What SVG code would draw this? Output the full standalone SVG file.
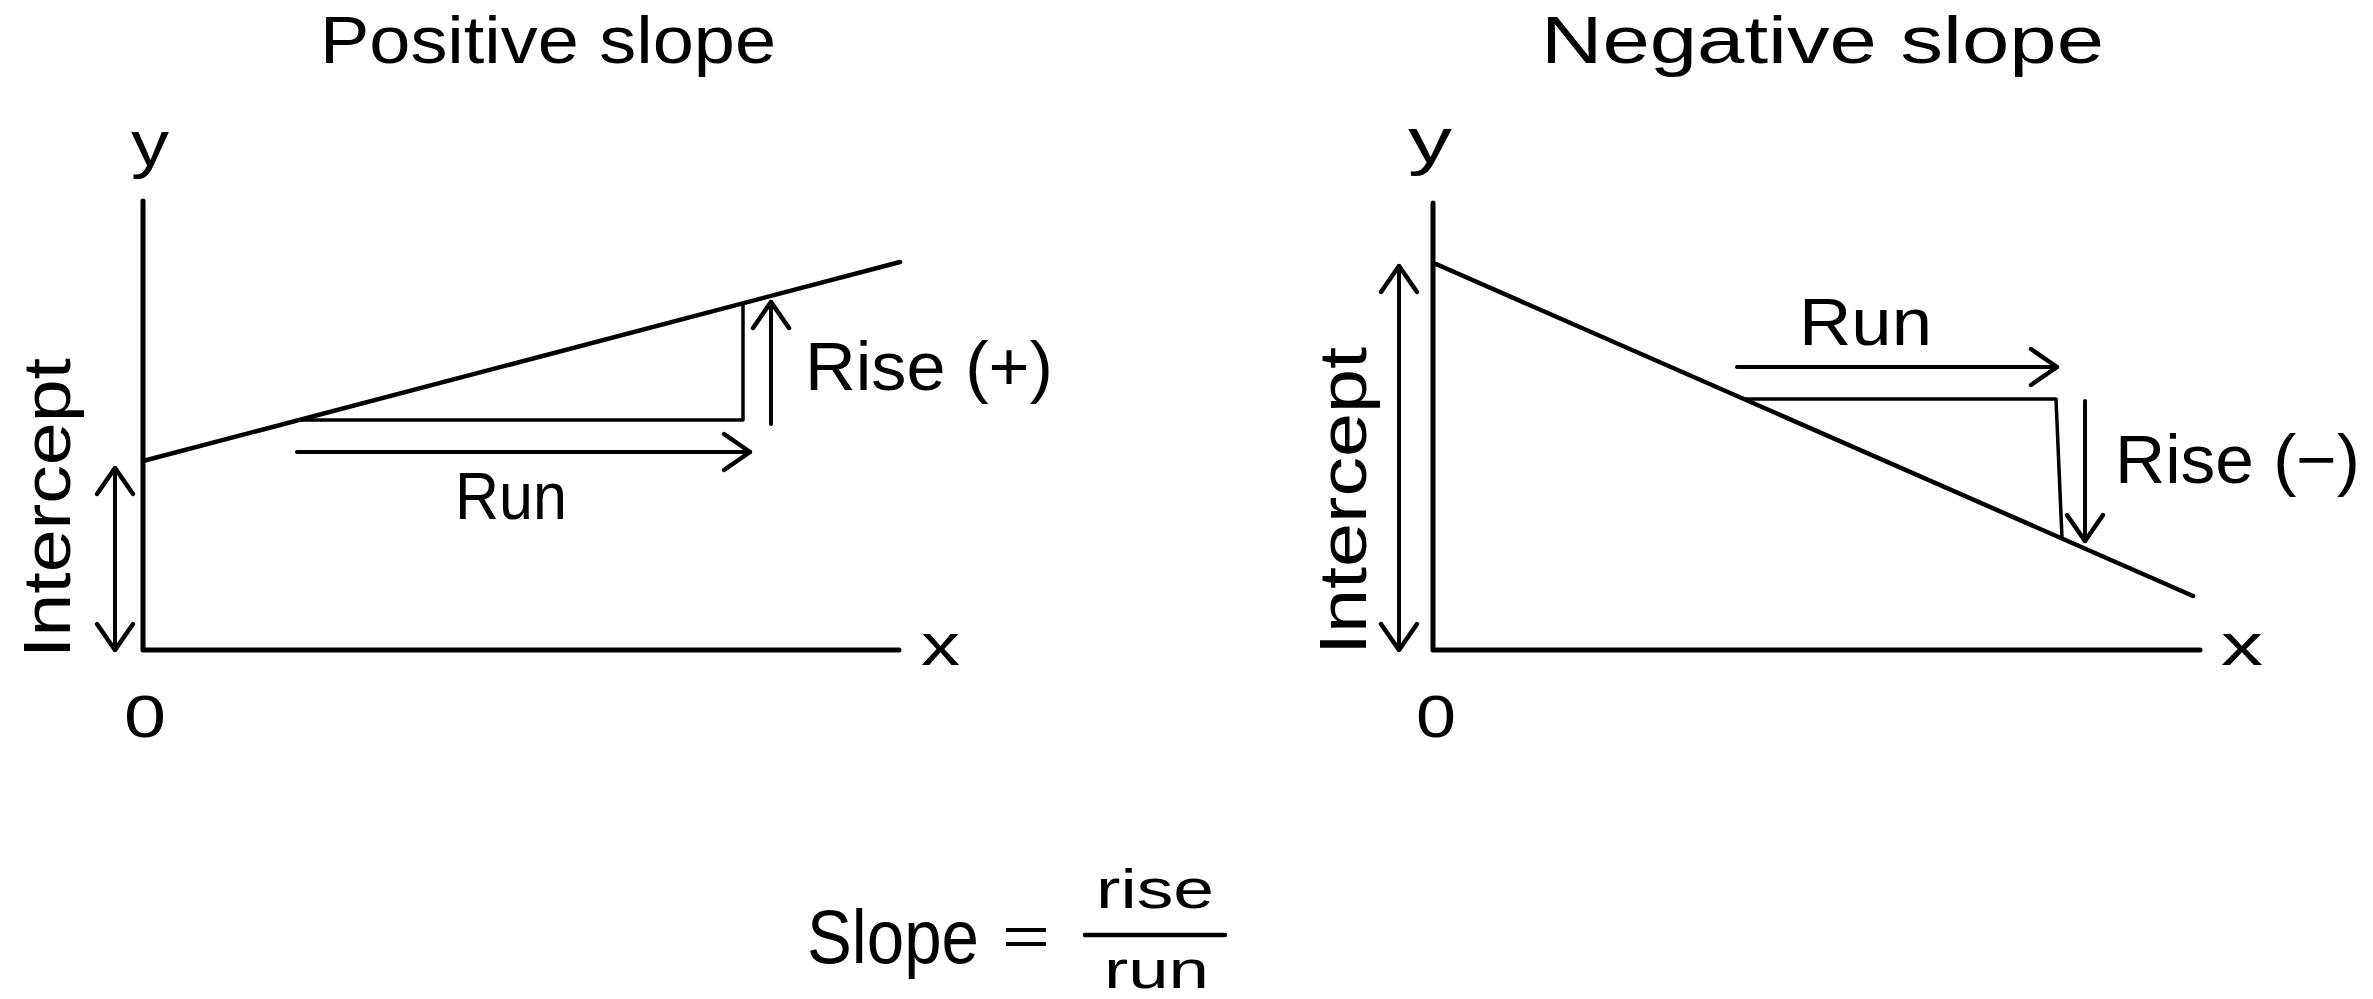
<svg xmlns="http://www.w3.org/2000/svg" width="2373" height="999" viewBox="0 0 2373 999">
<defs>
<style>
.t{font-family:"Liberation Sans",Arial,sans-serif;fill:#000}
.ln{stroke:#000;fill:none;stroke-linecap:round;stroke-linejoin:round}
.ax{stroke-width:5}
.sl{stroke-width:4.5}
.tr{stroke-width:3.5}
.ar{stroke-width:4}
</style>
<marker id="ah" viewBox="-32 -22 36 44" refX="0" refY="0" markerWidth="36" markerHeight="44" markerUnits="userSpaceOnUse" orient="auto-start-reverse">
<path d="M-26,-18 L0,0 L-26,18" fill="none" stroke="#000" stroke-width="4.5" stroke-linecap="round" stroke-linejoin="round"/>
</marker>
</defs>
<rect width="2373" height="999" fill="#fff"/>

<g id="title-positive"><text class="t" x="320" y="63" font-size="66" textLength="456" lengthAdjust="spacingAndGlyphs">Positive slope</text></g>
<g id="title-negative"><text class="t" x="1541" y="63" font-size="66" textLength="563" lengthAdjust="spacingAndGlyphs">Negative slope</text></g>

<g id="left-axes">
<path class="ln ax" d="M143,201 V650 H899"/>
<text class="t" x="131" y="166" font-size="64" textLength="38" lengthAdjust="spacingAndGlyphs">y</text>
<text class="t" x="921" y="665" font-size="60" textLength="39" lengthAdjust="spacingAndGlyphs">x</text>
<text class="t" x="124" y="737" font-size="59" textLength="42" lengthAdjust="spacingAndGlyphs">0</text>
</g>
<g id="left-line"><path class="ln sl" d="M143,461 L900,262"/></g>
<g id="left-triangle"><path class="ln tr" d="M299,420 H743 V303"/></g>
<g id="left-labels">
<text class="t" x="805" y="390" font-size="68" textLength="248" lengthAdjust="spacingAndGlyphs">Rise (+)</text>
<text class="t" x="455" y="519" font-size="66" textLength="112" lengthAdjust="spacingAndGlyphs">Run</text>
<text class="t" transform="translate(70,658) rotate(-90)" font-size="66" textLength="300" lengthAdjust="spacingAndGlyphs">Intercept</text>
</g>

<g id="right-axes">
<path class="ln ax" d="M1433,203 V650 H2200"/>
<text class="t" x="1408" y="163" font-size="64" textLength="44" lengthAdjust="spacingAndGlyphs">y</text>
<text class="t" x="2221" y="665" font-size="60" textLength="42" lengthAdjust="spacingAndGlyphs">x</text>
<text class="t" x="1416" y="737" font-size="59" textLength="40" lengthAdjust="spacingAndGlyphs">0</text>
</g>
<g id="right-line"><path class="ln sl" d="M1436,264 L2193,596"/></g>
<g id="right-triangle"><path class="ln tr" d="M1744,399 H2056 L2062,538"/></g>
<g id="right-labels">
<text class="t" x="1799" y="345" font-size="66" textLength="133" lengthAdjust="spacingAndGlyphs">Run</text>
<text class="t" x="2115" y="483" font-size="68" textLength="245" lengthAdjust="spacingAndGlyphs">Rise (−)</text>
<text class="t" transform="translate(1366,655) rotate(-90)" font-size="66" textLength="308" lengthAdjust="spacingAndGlyphs">Intercept</text>
</g>

<g id="connectors">
<line class="ln ar" x1="771" y1="424" x2="771" y2="302" marker-end="url(#ah)"/>
<line class="ln ar" x1="297" y1="452" x2="750" y2="452" marker-end="url(#ah)"/>
<line class="ln ar" x1="115" y1="468" x2="115" y2="650" marker-start="url(#ah)" marker-end="url(#ah)"/>
<line class="ln ar" x1="1737" y1="367" x2="2057" y2="367" marker-end="url(#ah)"/>
<line class="ln ar" x1="2085" y1="401" x2="2085" y2="541" marker-end="url(#ah)"/>
<line class="ln ar" x1="1399" y1="266" x2="1399" y2="650" marker-start="url(#ah)" marker-end="url(#ah)"/>
</g>

<g id="formula">
<text class="t" x="807" y="963" font-size="76" textLength="172" lengthAdjust="spacingAndGlyphs">Slope</text>
<text class="t" x="1002" y="955" font-size="55" textLength="48" lengthAdjust="spacingAndGlyphs">=</text>
<line class="ln" stroke-width="4.5" x1="1085" y1="935" x2="1225" y2="935"/>
<text class="t" x="1096" y="908" font-size="56" textLength="118" lengthAdjust="spacingAndGlyphs">rise</text>
<text class="t" x="1104" y="988" font-size="54" textLength="105" lengthAdjust="spacingAndGlyphs">run</text>
</g>
</svg>
